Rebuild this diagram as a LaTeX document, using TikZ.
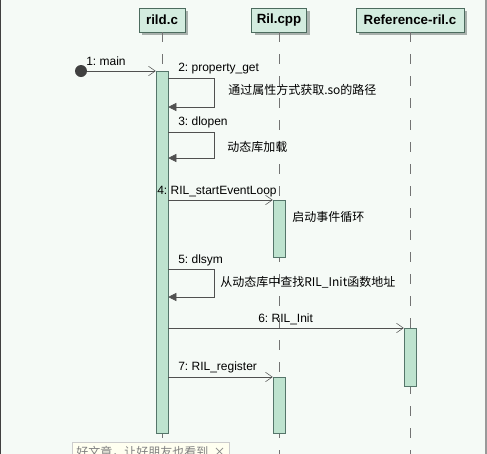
\documentclass[tikz,border=0pt]{standalone}
\usepackage{fontspec}
\setmainfont{Liberation Sans}
\newfontfamily\cjk{Noto Sans CJK SC}
\usepackage{tikz}
\usetikzlibrary{arrows.meta,shadows}
\usepackage{color, xcolor}
\definecolor{bgcol}{HTML}{F5FAF6}
\definecolor{headfill}{HTML}{D3ECDF}
\definecolor{headline}{HTML}{4C6B5E}
\definecolor{shade}{HTML}{A9B1AD}
\definecolor{barfill}{HTML}{BEE3CF}
\definecolor{barline}{HTML}{55756A}
\definecolor{msgcol}{HTML}{505050}
\definecolor{notefill}{HTML}{FFFFF0}

\begin{document}
\begin{tikzpicture}[x=0.75pt,y=-0.75pt, % pixel units, flip y axis
    head/.style={draw=headline, fill=headfill, minimum height=18pt, inner sep=0pt,
      font=\bfseries\fontsize{10}{12}\selectfont,
      drop shadow={shadow xshift=2.25pt, shadow yshift=-2.25pt, fill=shade, opacity=1}},
    bar/.style={draw=barline, fill=barfill, minimum width=9pt, anchor=north, inner sep=0pt},
    life/.style={draw=msgcol!80, dash pattern=on 7.5pt off 9pt},
    call/.style={draw=msgcol, -{Straight Barb[length=5pt,width=7pt]}},
    back/.style={draw=msgcol, -{Triangle[length=6pt,width=6pt]}},
    lbl/.style={font=\fontsize{9}{10}\selectfont, anchor=base west, inner sep=0pt},
    txt/.style={font=\cjk\fontsize{9}{10}\selectfont, anchor=west, inner sep=0pt}]
  \useasboundingbox (0,0) rectangle (487,454);
  \clip (0,0) rectangle (487,454);
  \fill[bgcol] (0,0) rectangle (487,454);
  \draw[black!75, line width=1.5pt] (0.5,0) -- (0.5,454);
  \draw[black!40, line width=1pt] (486,0) -- (486,454);

  % lifelines
  \foreach \n/\x/\w/\t in {rild/162/34.5pt/rild.c, cpp/279/41.25pt/Ril.cpp, ref/410/81pt/Reference-ril.c}{
      \node[head, minimum width=\w] (\n) at (\x,20) {\t};
      \draw[life] (\n.south) -- (\n.south |- 0,460);
    }

  % activations
  \node[bar, minimum height=271.5pt] (rildbar) at (162,71) {};
  \node[bar, minimum height=43pt] (cppbar1) at (279,200) {};
  \node[bar, minimum height=43.5pt] (refbar) at (410,328) {};
  \node[bar, minimum height=42pt] (cppbar2) at (279,377) {};

  % found message
  \node[circle, fill=black!75, inner sep=0pt, minimum size=9pt] (start) at (81,71) {};
  \draw[call] (start) -- (rildbar.north west);
  \node[lbl] (l1) at (86,65) {1:\ main};

  % self calls
  \foreach \a/\b/\k in {78/107/2, 132/158/3, 269/297/5}{
      \draw[back] (rildbar.east |- 0,\a) -- ++(46,0) |- (rildbar.east |- 0,\b);
    }
  \node[lbl] (l2) at (178,71) {2:\ property\_get};
  \node[lbl] (l3) at (178,125) {3:\ dlopen};
  \node[lbl] (l5) at (178,263) {5:\ dlsym};

  % calls to other lifelines
  \draw[call] (rildbar.east |- cppbar1.north west) -- (cppbar1.north west);
  \draw[call] (rildbar.east |- refbar.north west) -- (refbar.north west);
  \draw[call] (rildbar.east |- cppbar2.north west) -- (cppbar2.north west);
  \node[lbl] (l4) at (157,194) {4:\ RIL\_startEventLoop};
  \node[lbl] (l6) at (258,322) {6:\ RIL\_Init};
  \node[lbl] (l7) at (178,370) {7:\ RIL\_register};

  % notes
  \node[txt] (n2) at (228,90) {通过属性方式获取.so的路径};
  \node[txt] (n3) at (227,147) {动态库加载};
  \node[txt] (n4) at (292,217) {启动事件循环};
  \node[txt] (n5) at (220,282) {从动态库中查找RIL\_Init函数地址};

  % popup at the bottom
  \node[draw=black!20, fill=notefill, anchor=north west, minimum width=113pt, minimum height=15pt,
    text=black!50, font=\cjk\fontsize{9}{10}\selectfont, inner sep=3pt, text depth=8pt] (popup) at (72,442)
    {好文章，让好朋友也看到\ \ ×};
\end{tikzpicture}
\end{document}
